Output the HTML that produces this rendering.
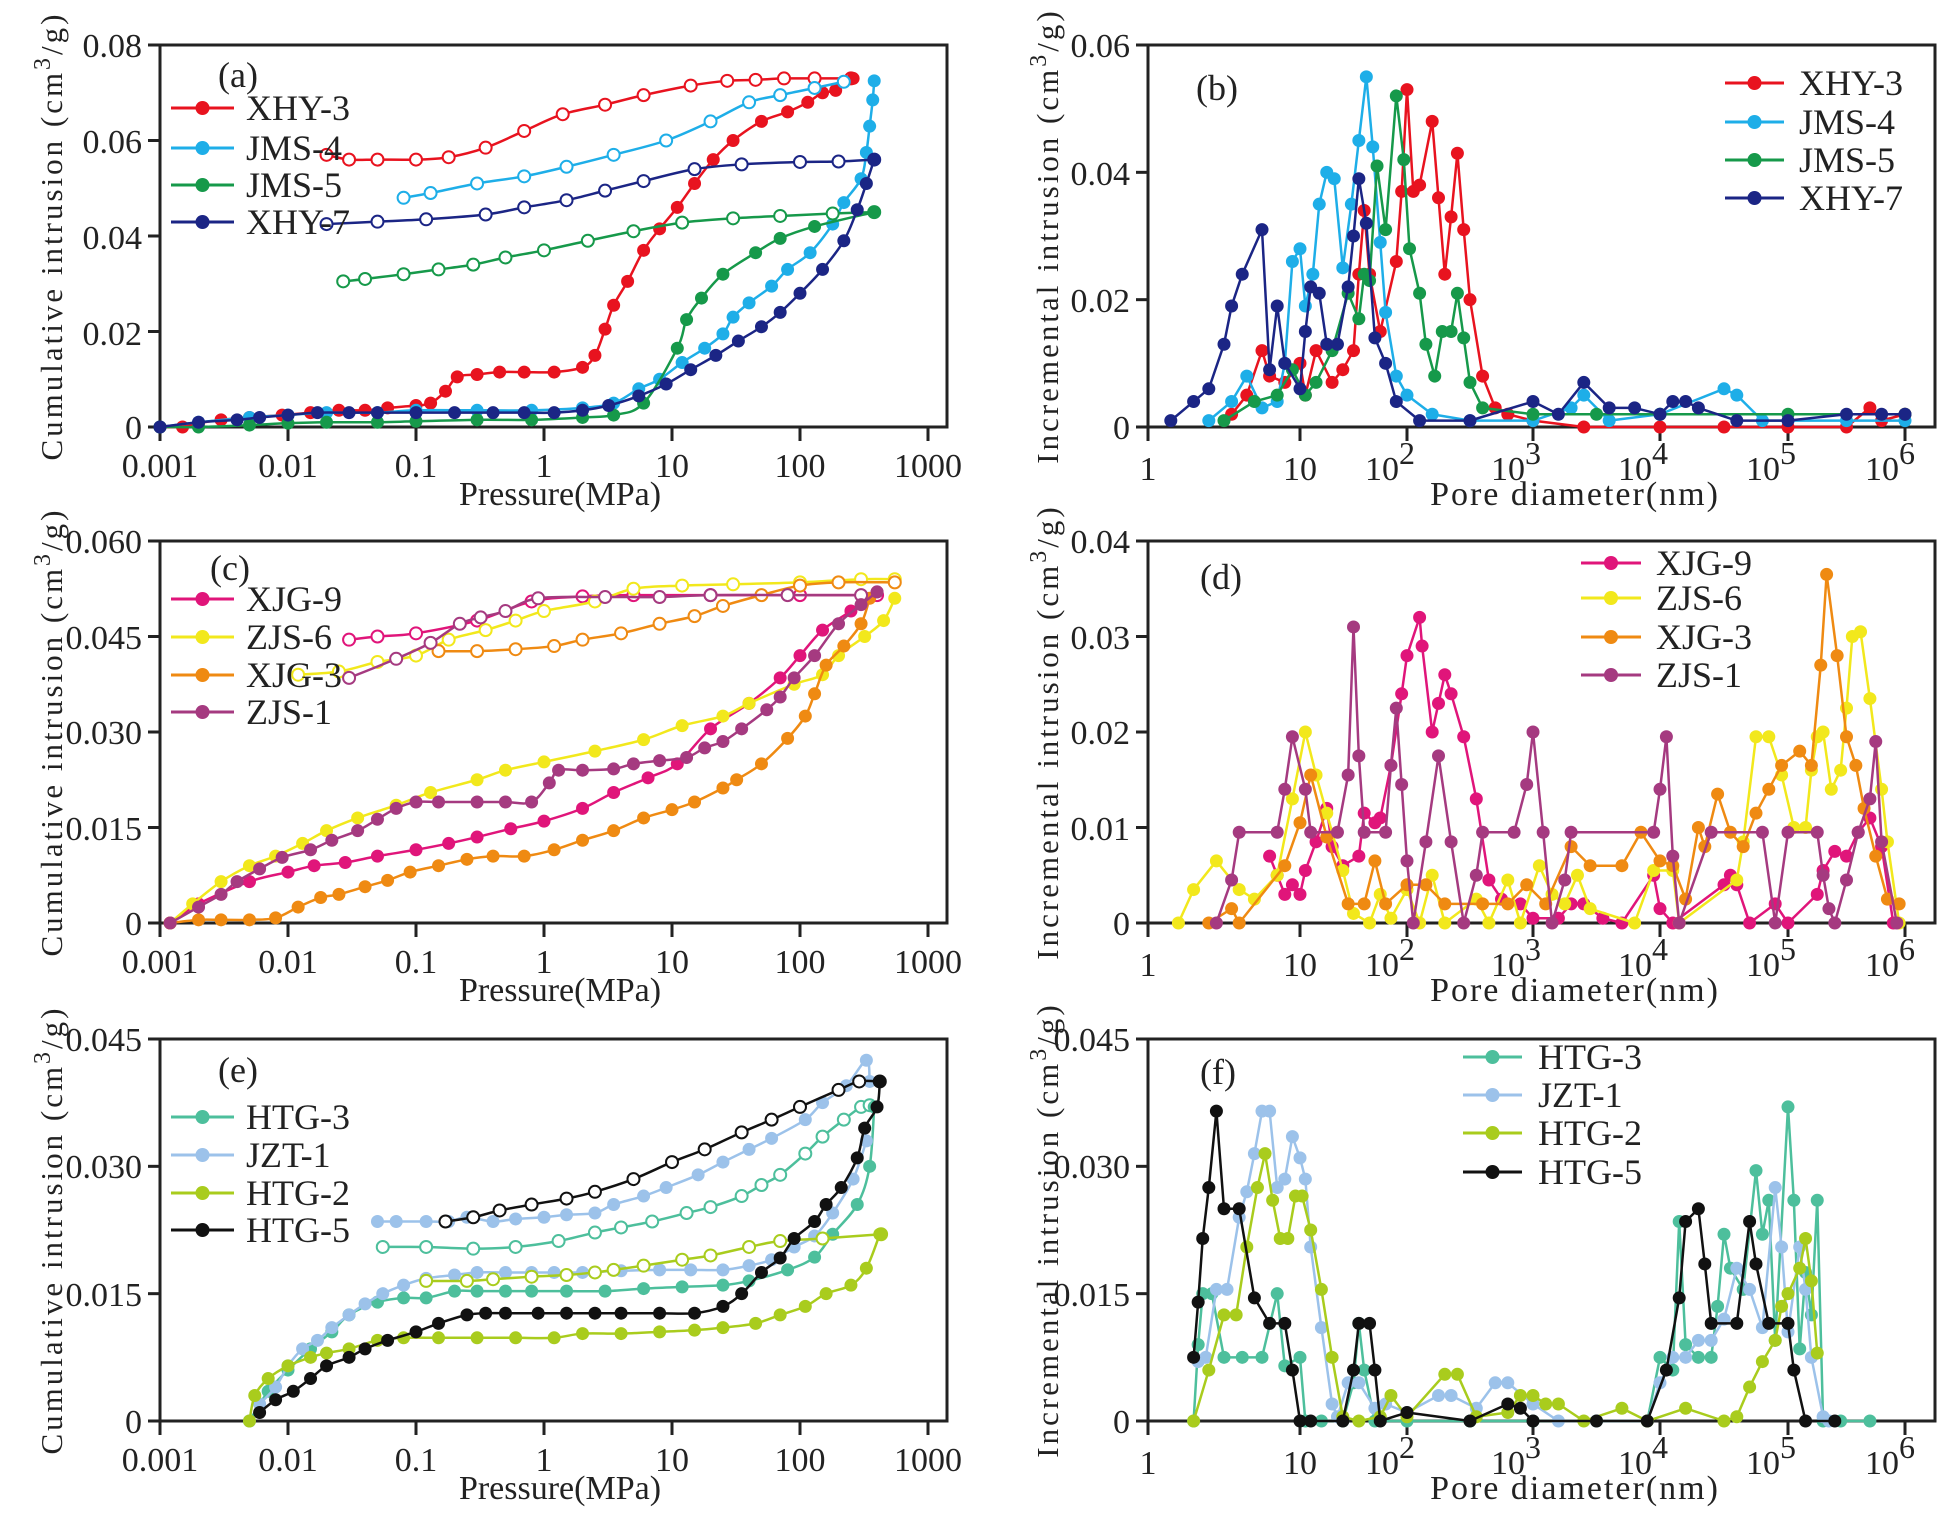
<!DOCTYPE html>
<html><head><meta charset="utf-8">
<style>
html,body{margin:0;padding:0;background:#fff;}
svg{display:block;}
text{font-family:"Liberation Serif",serif;fill:#222;}
.tk{font-size:34px;}
.lg{font-size:36px;}
.ti{font-size:34px;}
.yt{font-size:31px;letter-spacing:3px;}
</style></head>
<body>
<svg id="s" xmlns="http://www.w3.org/2000/svg" width="1954" height="1518" viewBox="0 0 1954 1518">
<rect width="1954" height="1518" fill="#fff"/>
<g id="plots"></g>
<g id="r0">
 <text class="yt" transform="translate(62,236) rotate(-90)" text-anchor="middle">Cumulative intrusion (cm<tspan dy="-12" font-size="24">3</tspan><tspan dy="12">/g)</tspan></text>
 <text class="yt" transform="translate(1058,236) rotate(-90)" text-anchor="middle">Incremental intrusion (cm<tspan dy="-12" font-size="24">3</tspan><tspan dy="12">/g)</tspan></text>
</g>
<g transform="translate(0,496)">
 <text class="yt" transform="translate(62,236) rotate(-90)" text-anchor="middle">Cumulative intrusion (cm<tspan dy="-12" font-size="24">3</tspan><tspan dy="12">/g)</tspan></text>
 <text class="yt" transform="translate(1058,236) rotate(-90)" text-anchor="middle">Incremental intrusion (cm<tspan dy="-12" font-size="24">3</tspan><tspan dy="12">/g)</tspan></text>
</g>
<g transform="translate(0,994)">
 <text class="yt" transform="translate(62,236) rotate(-90)" text-anchor="middle">Cumulative intrusion (cm<tspan dy="-12" font-size="24">3</tspan><tspan dy="12">/g)</tspan></text>
 <text class="yt" transform="translate(1058,236) rotate(-90)" text-anchor="middle">Incremental intrusion (cm<tspan dy="-12" font-size="24">3</tspan><tspan dy="12">/g)</tspan></text>
</g>

<g class="tk" text-anchor="middle">
 <text x="160" y="477">0.001</text><text x="288" y="477">0.01</text><text x="416" y="477">0.1</text><text x="544" y="477">1</text><text x="672" y="477">10</text><text x="800" y="477">100</text><text x="928" y="477">1000</text>
 <text class="ti" x="560" y="505">Pressure(MPa)</text>
</g>
<g transform="translate(0,496)" class="tk" text-anchor="middle">
 <text x="160" y="477">0.001</text><text x="288" y="477">0.01</text><text x="416" y="477">0.1</text><text x="544" y="477">1</text><text x="672" y="477">10</text><text x="800" y="477">100</text><text x="928" y="477">1000</text>
 <text class="ti" x="560" y="505">Pressure(MPa)</text>
</g>
<g transform="translate(0,994)" class="tk" text-anchor="middle">
 <text x="160" y="477">0.001</text><text x="288" y="477">0.01</text><text x="416" y="477">0.1</text><text x="544" y="477">1</text><text x="672" y="477">10</text><text x="800" y="477">100</text><text x="928" y="477">1000</text>
 <text class="ti" x="560" y="505">Pressure(MPa)</text>
</g>
<g class="tk">
 <text x="1148" y="480" text-anchor="middle">1</text><text x="1300" y="480" text-anchor="middle">10</text>
 <text x="1390" y="480" text-anchor="middle">10<tspan dy="-16" font-size="32">2</tspan></text>
 <text x="1516" y="480" text-anchor="middle">10<tspan dy="-16" font-size="32">3</tspan></text>
 <text x="1643" y="480" text-anchor="middle">10<tspan dy="-16" font-size="32">4</tspan></text>
 <text x="1771" y="480" text-anchor="middle">10<tspan dy="-16" font-size="32">5</tspan></text>
 <text x="1890" y="480" text-anchor="middle">10<tspan dy="-16" font-size="32">6</tspan></text>
 <text class="ti" x="1575" y="505" text-anchor="middle" letter-spacing="2">Pore diameter(nm)</text>
</g>
<g class="tk" transform="translate(0,496)">
 <text x="1148" y="480" text-anchor="middle">1</text><text x="1300" y="480" text-anchor="middle">10</text>
 <text x="1390" y="480" text-anchor="middle">10<tspan dy="-16" font-size="32">2</tspan></text>
 <text x="1516" y="480" text-anchor="middle">10<tspan dy="-16" font-size="32">3</tspan></text>
 <text x="1643" y="480" text-anchor="middle">10<tspan dy="-16" font-size="32">4</tspan></text>
 <text x="1771" y="480" text-anchor="middle">10<tspan dy="-16" font-size="32">5</tspan></text>
 <text x="1890" y="480" text-anchor="middle">10<tspan dy="-16" font-size="32">6</tspan></text>
 <text class="ti" x="1575" y="505" text-anchor="middle" letter-spacing="2">Pore diameter(nm)</text>
</g>
<g class="tk" transform="translate(0,994)">
 <text x="1148" y="480" text-anchor="middle">1</text><text x="1300" y="480" text-anchor="middle">10</text>
 <text x="1390" y="480" text-anchor="middle">10<tspan dy="-16" font-size="32">2</tspan></text>
 <text x="1516" y="480" text-anchor="middle">10<tspan dy="-16" font-size="32">3</tspan></text>
 <text x="1643" y="480" text-anchor="middle">10<tspan dy="-16" font-size="32">4</tspan></text>
 <text x="1771" y="480" text-anchor="middle">10<tspan dy="-16" font-size="32">5</tspan></text>
 <text x="1890" y="480" text-anchor="middle">10<tspan dy="-16" font-size="32">6</tspan></text>
 <text class="ti" x="1575" y="505" text-anchor="middle" letter-spacing="2">Pore diameter(nm)</text>
</g>

<g class="tk" text-anchor="end">
 <text x="142" y="57">0.08</text><text x="142" y="153">0.06</text><text x="142" y="249">0.04</text><text x="142" y="345">0.02</text><text x="142" y="439">0</text>
 <text x="142" y="553">0.060</text><text x="142" y="649">0.045</text><text x="142" y="744">0.030</text><text x="142" y="840">0.015</text><text x="142" y="935">0</text>
 <text x="142" y="1051">0.045</text><text x="142" y="1178">0.030</text><text x="142" y="1306">0.015</text><text x="142" y="1433">0</text>
 <text x="1130" y="57">0.06</text><text x="1130" y="185">0.04</text><text x="1130" y="312">0.02</text><text x="1130" y="439">0</text>
 <text x="1130" y="553">0.04</text><text x="1130" y="649">0.03</text><text x="1130" y="744">0.02</text><text x="1130" y="840">0.01</text><text x="1130" y="935">0</text>
 <text x="1130" y="1051">0.045</text><text x="1130" y="1178">0.030</text><text x="1130" y="1306">0.015</text><text x="1130" y="1433">0</text>
</g>

<g class="lg">
 <text x="218" y="87">(a)</text>
 <text x="246" y="120">XHY-3</text><text x="246" y="160">JMS-4</text><text x="246" y="197">JMS-5</text><text x="246" y="234">XHY-7</text>
 <text x="1196" y="100">(b)</text>
 <text x="1799" y="95">XHY-3</text><text x="1799" y="134">JMS-4</text><text x="1799" y="172">JMS-5</text><text x="1799" y="210">XHY-7</text>
 <text x="210" y="580">(c)</text>
 <text x="246" y="611">XJG-9</text><text x="246" y="649">ZJS-6</text><text x="246" y="687">XJG-3</text><text x="246" y="724">ZJS-1</text>
 <text x="1200" y="589">(d)</text>
 <text x="1656" y="575">XJG-9</text><text x="1656" y="610">ZJS-6</text><text x="1656" y="649">XJG-3</text><text x="1656" y="687">ZJS-1</text>
 <text x="218" y="1082">(e)</text>
 <text x="246" y="1129">HTG-3</text><text x="246" y="1167">JZT-1</text><text x="246" y="1205">HTG-2</text><text x="246" y="1242">HTG-5</text>
 <text x="1200" y="1084">(f)</text>
 <text x="1538" y="1069">HTG-3</text><text x="1538" y="1107">JZT-1</text><text x="1538" y="1145">HTG-2</text><text x="1538" y="1184">HTG-5</text>
</g>
</svg>
<script>
(function(){
var NS="http://www.w3.org/2000/svg", G=document.getElementById('plots');
function el(t,a,p){var e=document.createElementNS(NS,t);for(var k in a)e.setAttribute(k,a[k]);(p||G).appendChild(e);return e;}
var LX=[160,288,416,544,672,800,928], RX=[1148,1300,1407,1533,1660,1788,1905];
var ROWS=[0,496,994];
function mapX(xt,lx){var i=Math.floor(lx);if(i<0)i=0;if(i>5)i=5;return xt[i]+(lx-i)*(xt[i+1]-xt[i]);}
function panel(col,row,ymax,nt,series,smooth,legend){
  var off=ROWS[row],top=45+off,bot=427+off;
  var L=col==0?160:1148,R=col==0?947:1935,xt=col==0?LX:RX;
  el('rect',{x:L,y:top,width:R-L,height:bot-top,fill:'none',stroke:'#222','stroke-width':3});
  for(var i=0;i<=nt;i++){var y=bot-(bot-top)*i/nt;el('line',{x1:L-12,x2:L,y1:y,y2:y,stroke:'#222','stroke-width':3});}
  for(var i=0;i<7;i++){el('line',{x1:xt[i],x2:xt[i],y1:bot,y2:bot+14,stroke:'#222','stroke-width':3});}
  function P(p){var lx=col==0?Math.log10(p[0])+3:p[0];return [mapX(xt,lx),bot-(bot-top)*p[1]/ymax];}
  series.forEach(function(s){
    s.parts.forEach(function(part){
      var pts=part.d.map(P),d='';
      if(smooth&&pts.length>2){
        d='M'+pts[0][0]+','+pts[0][1];
        for(var i=0;i<pts.length-1;i++){
          var p0=pts[i-1]||pts[i],p1=pts[i],p2=pts[i+1],p3=pts[i+2]||p2;
          var c1=[p1[0]+(p2[0]-p0[0])/6,p1[1]+(p2[1]-p0[1])/6],c2=[p2[0]-(p3[0]-p1[0])/6,p2[1]-(p3[1]-p1[1])/6];
          d+='C'+c1[0]+','+c1[1]+' '+c2[0]+','+c2[1]+' '+p2[0]+','+p2[1];
        }
      } else {d='M'+pts.map(function(p){return p[0]+','+p[1];}).join('L');}
      el('path',{d:d,fill:'none',stroke:s.c,'stroke-width':2.5,'stroke-linejoin':'round'});
      pts.forEach(function(p){
        if(part.open) el('circle',{cx:p[0],cy:p[1],r:6,fill:'#fff',stroke:s.c,'stroke-width':2});
        else el('circle',{cx:p[0],cy:p[1],r:6.5,fill:s.c});
      });
    });
  });
  legend.rows.forEach(function(y,i){
    var c=series[i].c;
    el('line',{x1:legend.x1,x2:legend.x2,y1:y+off,y2:y+off,stroke:c,'stroke-width':3});
    el('circle',{cx:(legend.x1+legend.x2)/2,cy:y+off,r:7,fill:c});
  });
}
function F(a){var r=[];for(var i=0;i<a.length;i+=2)r.push([a[i],a[i+1]]);return r;}
panel(0,0,0.08,4,[
 {c:'#e8131f',parts:[{open:1,d:F([0.02,.057,0.03,.056,0.05,.056,0.1,.056,0.18,.0565,0.35,.0585,0.7,.062,1.4,.0655,3,.0675,6,.0695,14,.0715,27,.0725,45,.0727,75,.073,130,.073,250,.073])},
  {d:F([0.001,0,0.0015,0,0.002,.0008,0.003,.0015,0.005,.002,0.009,.0025,0.015,.003,0.025,.0035,0.04,.0035,0.06,.004,0.1,.0045,0.13,.005,0.17,.0075,0.21,.0105,0.3,.011,0.45,.0115,0.7,.0115,1.2,.0115,2,.0125,2.5,.015,3,.0205,3.5,.0255,4.5,.0305,6,.037,8,.0415,11,.046,15,.051,21,.056,30,.060,50,.064,80,.066,115,.068,150,.070,190,.0705,260,.073])}]},
 {c:'#1eaee8',parts:[{open:1,d:F([0.08,.048,0.13,.049,0.3,.051,0.7,.0525,1.5,.0545,3.5,.057,9,.060,20,.064,40,.068,70,.0695,130,.071,220,.0723])},
  {d:F([0.001,0,0.002,.001,0.005,.002,0.01,.0025,0.02,.003,0.05,.003,0.1,.0035,0.3,.0035,0.8,.0035,2,.004,3.5,.005,5.5,.008,8,.010,12,.0135,18,.0165,25,.0195,30,.023,40,.026,60,.0295,80,.033,120,.0365,180,.0425,220,.047,300,.052,330,.0575,350,.063,370,.0685,380,.0725])}]},
 {c:'#16994a',parts:[{open:1,d:F([0.027,.0305,0.04,.031,0.08,.032,0.15,.033,0.28,.034,0.5,.0355,1,.037,2.2,.039,5,.041,12,.0428,30,.0437,70,.0442,180,.0447,380,.045])},
  {d:F([0.001,0,0.002,0,0.005,.0004,0.01,.0008,0.02,.001,0.05,.001,0.1,.0012,0.3,.0015,0.8,.0015,2,.002,3.5,.0025,6,.005,11,.0165,13,.0225,17,.027,25,.032,45,.0365,70,.0395,130,.042,380,.045])}]},
 {c:'#1b2585',parts:[{open:1,d:F([0.02,.0425,0.05,.043,0.12,.0435,0.35,.0445,0.7,.046,1.5,.0475,3,.0495,6,.0515,15,.054,35,.055,100,.0555,200,.0556,380,.056])},
  {d:F([0.001,0,0.002,.001,0.004,.0015,0.006,.002,0.01,.0025,0.017,.003,0.03,.003,0.05,.003,0.1,.003,0.2,.003,0.4,.003,0.7,.003,1.2,.003,2,.0035,3.2,.0045,5.5,.0065,9,.009,14,.012,22,.015,33,.018,50,.021,70,.024,100,.028,150,.033,220,.039,280,.0455,330,.051,380,.056])}]}
],true,{x1:171,x2:234,rows:[108,148,185,222]});
panel(0,1,0.06,4,[
 {c:'#e0157a',parts:[{open:1,d:F([0.03,.0445,0.05,.045,0.1,.0455,0.3,.0475,0.8,.0505,2,.0513,5,.0515,20,.0515,100,.0515,400,.0515])},
  {d:F([0.0012,0,0.002,.003,0.005,.0065,0.01,.008,0.016,.009,0.028,.0095,0.05,.0105,0.1,.0115,0.18,.0125,0.3,.0135,0.55,.0148,1,.016,2,.018,3.5,.0205,6.5,.0228,11,.025,20,.0305,40,.0345,70,.0385,100,.042,150,.046,250,.049,400,.052])}]},
 {c:'#f2e81c',parts:[{open:1,d:F([0.012,.039,0.025,.0395,0.05,.041,0.1,.042,0.18,.0445,0.35,.046,0.6,.0475,1,.049,2.5,.0505,5,.0525,12,.053,30,.0532,100,.0535,300,.054,550,.054])},
  {d:F([0.0012,0,0.0018,.003,0.003,.0065,0.005,.009,0.008,.0105,0.013,.0125,0.02,.0145,0.035,.0165,0.07,.0185,0.13,.0205,0.3,.0225,0.5,.024,1,.0253,2.5,.027,6,.0288,12,.031,25,.0325,40,.0345,90,.0375,150,.039,200,.042,320,.045,450,.0475,550,.051])}]},
 {c:'#ef8a12',parts:[{open:1,d:F([0.15,.0427,0.3,.0427,0.6,.043,1.2,.0435,2,.0445,4,.0455,8,.047,15,.0482,25,.0498,50,.0515,100,.053,200,.0535,550,.0535])},
  {d:F([0.0012,0,0.002,.0005,0.003,.0005,0.005,.0005,0.008,.0008,0.012,.0025,0.018,.004,0.025,.0045,0.04,.0057,0.06,.0067,0.09,.008,0.15,.009,0.25,.01,0.4,.0105,0.7,.0105,1.2,.0115,2,.013,3.5,.0145,6,.0165,10,.0178,15,.019,25,.0212,32,.0225,50,.025,80,.029,110,.0325,130,.036,160,.0405,220,.0435,300,.047,350,.051])}]},
 {c:'#a53a80',parts:[{open:1,d:F([0.03,.0385,0.07,.0415,0.13,.044,0.22,.047,0.32,.048,0.5,.049,0.9,.051,3,.0512,8,.0512,20,.0515,80,.0515,300,.0515])},
  {d:F([0.0012,0,0.002,.0025,0.003,.0045,0.004,.0065,0.006,.0085,0.009,.0103,0.015,.0115,0.022,.013,0.035,.0145,0.05,.0163,0.07,.018,0.1,.019,0.15,.019,0.3,.019,0.5,.019,0.8,.019,1.1,.022,1.3,.024,2,.024,3.5,.0242,5,.025,8,.0255,13,.026,18,.0275,25,.0285,35,.0305,55,.0335,70,.0355,90,.0385,130,.042,200,.047,300,.05,400,.052])}]}
],true,{x1:171,x2:234,rows:[103,141,179,216]});
panel(0,2,0.045,3,[
 {c:'#4dbf9c',parts:[{open:1,d:F([0.055,.0205,0.12,.0205,0.28,.0203,0.6,.0205,1.3,.0212,2.5,.0222,4,.0228,7,.0235,13,.0245,20,.0252,35,.0265,50,.0278,70,.029,110,.0315,150,.0335,220,.0355,300,.037,350,.0372])},
  {d:F([0.005,0,0.007,.0035,0.01,.006,0.015,.0085,0.022,.0105,0.03,.0125,0.05,.014,0.08,.0145,0.12,.0145,0.2,.0153,0.3,.0153,0.5,.0153,0.8,.0153,1.5,.0153,3,.0153,6,.0156,12,.0158,25,.016,40,.0165,80,.0178,130,.0193,180,.022,280,.0255,350,.03,380,.037])}]},
 {c:'#9cc2ea',parts:[{d:F([0.05,.0235,0.07,.0235,0.12,.0235,0.18,.0235,0.25,.024,0.4,.0235,0.6,.0238,1,.024,1.5,.0243,2.5,.0245,3.5,.0255,6,.0265,9,.0275,16,.029,25,.0305,40,.032,60,.0333,110,.0355,150,.0375,230,.0395,330,.0425,350,.04])},
  {d:F([0.006,.002,0.008,.004,0.01,.0065,0.013,.0085,0.017,.0095,0.022,.011,0.03,.0125,0.04,.0138,0.055,.015,0.08,.016,0.12,.0168,0.2,.0172,0.3,.0175,0.5,.0175,0.8,.0175,1.2,.0175,2,.0175,4,.0177,8,.0178,14,.0178,25,.0178,40,.0183,60,.019,90,.0205,130,.0218,180,.0245,260,.0285,330,.033])}]},
 {c:'#a9cc1d',parts:[{open:1,d:F([0.12,.0165,0.25,.0165,0.4,.0167,0.8,.017,1.5,.0172,2.5,.0175,3.5,.0178,6,.0183,12,.019,20,.0195,40,.0205,70,.0212,150,.0215,430,.022])},
  {d:F([0.005,0,0.0055,.003,0.007,.005,0.01,.0065,0.015,.0075,0.02,.008,0.03,.0085,0.05,.0095,0.08,.0098,0.15,.0098,0.3,.0098,0.6,.0098,1.2,.0098,2,.0103,4,.0103,8,.0105,15,.0107,25,.011,45,.0115,70,.0125,110,.0135,160,.015,250,.016,330,.018,420,.022])}]},
 {c:'#111111',parts:[{open:1,d:F([0.17,.0235,0.28,.024,0.45,.0248,0.8,.0255,1.5,.0262,2.5,.027,5,.0285,10,.0305,18,.032,35,.034,60,.0355,100,.037,200,.039,290,.04,420,.04])},
  {d:F([0.006,.001,0.008,.0025,0.011,.0035,0.015,.005,0.02,.0065,0.03,.0075,0.04,.0085,0.06,.0095,0.1,.0105,0.15,.0115,0.25,.0125,0.35,.0127,0.5,.0127,0.9,.0127,1.5,.0127,2.5,.0127,4,.0127,8,.0127,15,.0127,25,.0135,35,.015,50,.0175,70,.0192,90,.0215,130,.0235,160,.0255,210,.0275,280,.031,320,.0345,400,.037,420,.04])}]}
],true,{x1:171,x2:234,rows:[123,161,199,236]});
panel(1,0,0.06,3,[
 {c:'#e8131f',parts:[{d:F([0.55,.002,0.65,.005,0.75,.012,0.8,.008,0.9,.007,1.0,.010,1.05,.005,1.15,.012,1.3,.007,1.4,.009,1.5,.012,1.55,.024,1.6,.034,1.65,.024,1.75,.015,1.9,.026,1.95,.037,2.0,.053,2.05,.037,2.1,.038,2.2,.048,2.25,.036,2.3,.024,2.35,.033,2.4,.043,2.45,.031,2.5,.02,2.6,.008,2.7,.003,2.8,.002,3.0,.001,3.4,0,4.0,0,4.5,0,5.0,0,5.5,0,5.7,.003,5.8,.001,6.0,.002])}]},
 {c:'#1eaee8',parts:[{d:F([0.4,.001,0.55,.004,0.65,.008,0.75,.003,0.85,.004,0.9,.01,0.95,.026,1.0,.028,1.05,.019,1.12,.024,1.18,.035,1.25,.04,1.32,.039,1.4,.025,1.48,.035,1.55,.045,1.62,.055,1.68,.044,1.75,.029,1.8,.018,1.9,.008,2.0,.005,2.2,.002,2.5,.001,3.0,.001,3.3,.003,3.4,.005,3.6,.001,4.0,.002,4.5,.006,4.6,.005,4.8,.001,5.5,.001,6.0,.001])}]},
 {c:'#16994a',parts:[{d:F([0.5,.001,0.7,.004,0.85,.005,0.95,.009,1.05,.005,1.15,.007,1.3,.012,1.45,.021,1.55,.017,1.6,.024,1.65,.023,1.72,.041,1.8,.031,1.9,.052,1.97,.042,2.02,.028,2.1,.021,2.15,.013,2.22,.008,2.28,.015,2.35,.015,2.4,.021,2.45,.014,2.5,.007,2.6,.003,3.0,.002,3.5,.002,4.0,.002,5.0,.002,6.0,.002])}]},
 {c:'#1b2585',parts:[{d:F([0.15,.001,0.3,.004,0.4,.006,0.5,.013,0.55,.019,0.62,.024,0.75,.031,0.8,.009,0.85,.019,0.9,.01,1.0,.006,1.05,.015,1.1,.022,1.18,.021,1.25,.013,1.35,.013,1.45,.022,1.5,.030,1.55,.039,1.62,.032,1.7,.014,1.8,.01,1.9,.004,2.1,.001,2.5,.001,3.0,.004,3.2,.002,3.4,.007,3.6,.003,3.8,.003,4.0,.002,4.1,.004,4.2,.004,4.3,.003,4.6,.001,5.0,.001,5.5,.002,5.8,.002,6.0,.002])}]}
],false,{x1:1725,x2:1784,rows:[83,122,160,198]});
panel(1,1,0.04,4,[
 {c:'#e0157a',parts:[{d:F([0.8,.007,0.85,.005,0.9,.003,0.95,.004,1.0,.003,1.05,.0055,1.15,.0085,1.25,.012,1.3,.008,1.4,.006,1.55,.007,1.6,.0115,1.7,.0105,1.75,.011,1.85,.0165,1.95,.024,2.0,.028,2.1,.032,2.12,.029,2.2,.020,2.25,.023,2.3,.026,2.35,.024,2.45,.0195,2.55,.013,2.65,.0045,2.75,.0025,2.9,.002,3.0,.0005,3.2,.0005,3.3,.002,3.4,.002,3.55,.0005,3.7,0,3.95,.005,4.0,.0015,4.1,0,4.5,.004,4.55,.005,4.6,.004,4.7,0,4.9,.002,5.0,0,5.25,.003,5.3,.0055,5.4,.0075,5.5,.007,5.6,.0095,5.7,.011,5.8,.008,5.9,0])}]},
 {c:'#f2e81c',parts:[{d:F([0.2,0,0.3,.0035,0.45,.0065,0.6,.0035,0.7,.0025,0.85,.005,0.95,.013,1.05,.020,1.15,.0155,1.25,.0115,1.4,.0055,1.5,.001,1.65,0,1.75,.003,1.85,.0005,2.0,.0035,2.1,0,2.2,.005,2.3,0,2.55,.0025,2.65,0,2.8,.0045,2.9,0,3.05,.006,3.15,.003,3.25,.002,3.35,.005,3.45,.0015,3.8,0,3.95,.0055,4.1,.0055,4.15,0,4.6,.0045,4.65,.0085,4.75,.0195,4.85,.0195,4.95,.0155,5.05,.01,5.15,.01,5.2,.016,5.25,.0195,5.3,.02,5.37,.014,5.45,.016,5.5,.0225,5.55,.03,5.62,.0305,5.7,.0235,5.8,.014,5.85,.0085,5.95,0])}]},
 {c:'#ef8a12',parts:[{d:F([0.4,0,0.55,.0015,0.6,0,0.9,.006,1.0,.0105,1.1,.0155,1.25,.009,1.45,.002,1.6,.002,1.7,.0065,1.8,.002,2.0,.004,2.15,.004,2.3,.002,2.6,.002,2.8,.002,2.95,.004,3.1,.002,3.3,.008,3.45,.006,3.7,.006,3.85,.0095,4.0,.0065,4.1,.006,4.2,.0025,4.3,.01,4.35,.008,4.45,.0135,4.55,.0095,4.65,.008,4.75,.0115,4.85,.014,4.95,.0165,5.1,.018,5.2,.0165,5.28,.027,5.33,.0365,5.42,.028,5.5,.0195,5.58,.0165,5.65,.012,5.75,.007,5.85,.0025,5.95,.002])}]},
 {c:'#a53a80',parts:[{d:F([0.45,0,0.55,.0045,0.6,.0095,0.85,.0095,0.9,.014,0.95,.0195,1.05,.014,1.1,.0095,1.35,.0095,1.45,.0155,1.5,.031,1.55,.0175,1.6,.0095,1.8,.0095,1.85,.0165,1.9,.0225,1.95,.0145,2.0,.0065,2.05,0,2.15,.0085,2.25,.0175,2.35,.0085,2.45,0,2.55,.005,2.6,.0095,2.85,.0095,2.95,.0145,3.0,.02,3.08,.0095,3.15,0,3.25,.0045,3.3,.0095,3.95,.0095,4.0,.014,4.05,.0195,4.1,.007,4.15,0,4.4,.0095,4.8,.0095,4.9,0,5.0,.0095,5.25,.0095,5.3,.005,5.35,.0015,5.4,0,5.5,.0045,5.6,.0095,5.7,.013,5.75,.019,5.8,.0085,5.93,0])}]}
],false,{x1:1581,x2:1641,rows:[67,102,141,179]});
panel(1,2,0.045,3,[
 {c:'#4dbf9c',parts:[{d:F([0.3,0,0.33,.009,0.36,.015,0.42,.015,0.5,.0075,0.62,.0075,0.75,.0075,0.85,.015,0.9,.0065,1.0,.0075,1.05,0,1.2,0,1.4,0,1.5,.0045,1.55,.0115,1.6,.006,1.7,0,2.0,0,2.5,0,3.0,0,3.5,0,3.9,0,4.0,.0075,4.1,.006,4.15,.0235,4.2,.009,4.3,.0075,4.4,.0075,4.45,.0135,4.5,.022,4.55,.018,4.65,.0155,4.75,.0295,4.8,.022,4.85,.026,4.9,.0095,5.0,.037,5.05,.026,5.1,.0085,5.15,.0175,5.2,.0125,5.25,.026,5.3,0,5.45,0,5.7,0])}]},
 {c:'#9cc2ea',parts:[{d:F([0.33,.007,0.38,.0075,0.45,.0155,0.52,.0155,0.6,.024,0.65,.027,0.7,.0315,0.75,.0365,0.8,.0365,0.85,.0275,0.9,.0285,0.95,.0335,1.0,.031,1.05,.0285,1.1,.0205,1.2,.011,1.3,.002,1.35,.0005,1.45,.0045,1.55,.0045,1.7,.0015,1.8,.002,2.0,.001,2.25,.003,2.35,.003,2.55,.0015,2.7,.0045,2.8,.0045,3.0,.002,3.2,0,3.5,0,3.9,0,4.0,.0045,4.1,.0075,4.2,.0075,4.3,.0095,4.4,.0095,4.5,.012,4.6,.018,4.7,.0155,4.8,.011,4.9,.0275,4.95,.0205,5.0,.0105,5.1,.0205,5.15,.0155,5.2,.0075,5.3,.0005,5.35,0])}]},
 {c:'#a9cc1d',parts:[{d:F([0.3,0,0.4,.006,0.5,.0125,0.58,.0125,0.65,.0205,0.72,.0275,0.77,.0315,0.82,.026,0.87,.0215,0.92,.0215,0.97,.0265,1.02,.0265,1.1,.0225,1.2,.0155,1.3,.0075,1.4,.0005,1.55,0,1.75,.0005,1.85,.003,2.0,.0005,2.3,.0055,2.4,.0055,2.55,.0005,2.8,.001,2.9,.003,3.0,.003,3.1,.002,3.2,.002,3.4,0,3.7,.0015,3.9,0,4.2,.0015,4.5,0,4.6,.0005,4.7,.004,4.8,.007,4.9,.0095,4.95,.0135,5.0,.015,5.1,.018,5.15,.0215,5.2,.0165,5.25,.008])}]},
 {c:'#111111',parts:[{d:F([0.3,.0075,0.33,.014,0.36,.0215,0.4,.0275,0.45,.0365,0.5,.025,0.6,.025,0.7,.0145,0.8,.0115,0.9,.0115,0.95,.006,1.0,0,1.1,0,1.4,0,1.5,.006,1.55,.0115,1.65,.0115,1.7,.006,1.75,0,2.0,.001,2.5,0,2.8,.002,2.9,.0015,3.0,0,3.5,0,3.9,0,4.05,.006,4.15,.0145,4.2,.0235,4.3,.025,4.35,.0185,4.4,.0115,4.6,.0115,4.7,.0235,4.75,.0185,4.85,.0115,5.0,.0115,5.05,.006,5.15,0,5.4,0])}]}
],false,{x1:1463,x2:1522,rows:[63,101,139,178]});
})();
</script>
</body></html>
